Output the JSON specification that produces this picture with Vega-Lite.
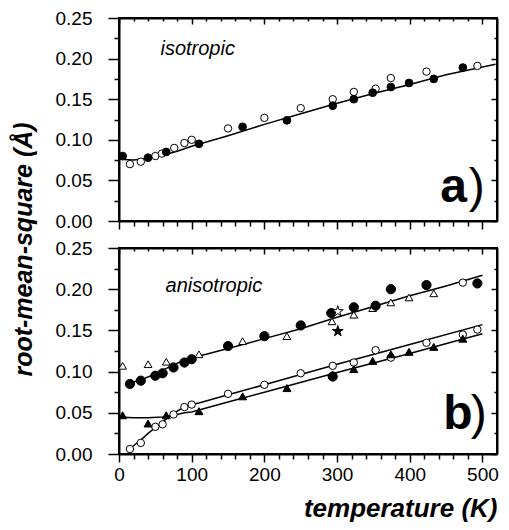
{
  "$schema": "https://vega.github.io/schema/vega-lite/v6.json",
  "background": "white",
  "padding": {"left": 10, "top": 8, "right": 5, "bottom": 5},
  "bounds": "flush",
  "spacing": 27,
  "config": {
    "font": "Liberation Sans",
    "view": {"stroke": "black", "strokeWidth": 2},
    "axis": {"domainColor": "black", "domainWidth": 2, "tickColor": "black", "tickWidth": 1.5, "labelColor": "black", "labelFontSize": 19, "grid": false, "titleColor": "black", "labelFlush": false, "labelOverlap": false}
  },
  "datasets": {
    "iso": [
      {"T": 5, "v": 0.080, "s": "f"}, {"T": 40, "v": 0.078, "s": "f"}, {"T": 65, "v": 0.085, "s": "f"}, {"T": 110, "v": 0.095, "s": "f"},
      {"T": 170, "v": 0.116, "s": "f"}, {"T": 231, "v": 0.124, "s": "f"}, {"T": 294, "v": 0.142, "s": "f"}, {"T": 323, "v": 0.150, "s": "f"},
      {"T": 349, "v": 0.158, "s": "f"}, {"T": 374, "v": 0.165, "s": "f"}, {"T": 399, "v": 0.170, "s": "f"}, {"T": 433, "v": 0.175, "s": "f"},
      {"T": 473, "v": 0.189, "s": "f"},
      {"T": 15, "v": 0.070, "s": "o"}, {"T": 30, "v": 0.073, "s": "o"}, {"T": 50, "v": 0.080, "s": "o"}, {"T": 59, "v": 0.083, "s": "o"},
      {"T": 76, "v": 0.090, "s": "o"}, {"T": 90, "v": 0.096, "s": "o"}, {"T": 100, "v": 0.100, "s": "o"}, {"T": 150, "v": 0.114, "s": "o"},
      {"T": 200, "v": 0.127, "s": "o"}, {"T": 250, "v": 0.139, "s": "o"}, {"T": 294, "v": 0.150, "s": "o"}, {"T": 323, "v": 0.159, "s": "o"},
      {"T": 353, "v": 0.163, "s": "o"}, {"T": 374, "v": 0.176, "s": "o"}, {"T": 423, "v": 0.184, "s": "o"}, {"T": 493, "v": 0.191, "s": "o"}
    ],
    "isoFit": [
      {"T": 0, "v": 0.076}, {"T": 20, "v": 0.075}, {"T": 40, "v": 0.077}, {"T": 60, "v": 0.081}, {"T": 80, "v": 0.086},
      {"T": 100, "v": 0.092}, {"T": 150, "v": 0.105}, {"T": 200, "v": 0.119}, {"T": 250, "v": 0.132}, {"T": 300, "v": 0.145},
      {"T": 350, "v": 0.157}, {"T": 400, "v": 0.168}, {"T": 450, "v": 0.180}, {"T": 518, "v": 0.193}
    ],
    "ani": [
      {"T": 15, "v": 0.085, "s": "fc"}, {"T": 30, "v": 0.089, "s": "fc"}, {"T": 50, "v": 0.095, "s": "fc"}, {"T": 60, "v": 0.098, "s": "fc"},
      {"T": 75, "v": 0.105, "s": "fc"}, {"T": 90, "v": 0.111, "s": "fc"}, {"T": 100, "v": 0.115, "s": "fc"}, {"T": 150, "v": 0.131, "s": "fc"},
      {"T": 200, "v": 0.143, "s": "fc"}, {"T": 250, "v": 0.156, "s": "fc"}, {"T": 292, "v": 0.171, "s": "fc"}, {"T": 323, "v": 0.178, "s": "fc"},
      {"T": 353, "v": 0.180, "s": "fc"}, {"T": 374, "v": 0.200, "s": "fc"}, {"T": 423, "v": 0.205, "s": "fc"}, {"T": 493, "v": 0.207, "s": "fc"},
      {"T": 294, "v": 0.094, "s": "fc"},
      {"T": 5, "v": 0.107, "s": "ot"}, {"T": 40, "v": 0.109, "s": "ot"}, {"T": 65, "v": 0.112, "s": "ot"}, {"T": 110, "v": 0.121, "s": "ot"},
      {"T": 170, "v": 0.137, "s": "ot"}, {"T": 231, "v": 0.143, "s": "ot"}, {"T": 293, "v": 0.161, "s": "ot"}, {"T": 323, "v": 0.169, "s": "ot"},
      {"T": 349, "v": 0.177, "s": "ot"}, {"T": 374, "v": 0.184, "s": "ot"}, {"T": 399, "v": 0.190, "s": "ot"}, {"T": 433, "v": 0.195, "s": "ot"},
      {"T": 473, "v": 0.208, "s": "oc"},
      {"T": 15, "v": 0.006, "s": "oc"}, {"T": 30, "v": 0.0135, "s": "oc"}, {"T": 50, "v": 0.033, "s": "oc"}, {"T": 60, "v": 0.036, "s": "oc"},
      {"T": 75, "v": 0.048, "s": "oc"}, {"T": 90, "v": 0.057, "s": "oc"}, {"T": 100, "v": 0.060, "s": "oc"}, {"T": 150, "v": 0.073, "s": "oc"},
      {"T": 200, "v": 0.084, "s": "oc"}, {"T": 250, "v": 0.098, "s": "oc"}, {"T": 294, "v": 0.107, "s": "oc"}, {"T": 323, "v": 0.111, "s": "oc"},
      {"T": 353, "v": 0.126, "s": "oc"}, {"T": 374, "v": 0.117, "s": "oc"}, {"T": 423, "v": 0.135, "s": "oc"}, {"T": 473, "v": 0.145, "s": "oc"},
      {"T": 493, "v": 0.151, "s": "oc"},
      {"T": 5, "v": 0.047, "s": "ft"}, {"T": 40, "v": 0.037, "s": "ft"}, {"T": 65, "v": 0.047, "s": "ft"}, {"T": 110, "v": 0.052, "s": "ft"},
      {"T": 170, "v": 0.070, "s": "ft"}, {"T": 231, "v": 0.080, "s": "ft"}, {"T": 294, "v": 0.096, "s": "ft"}, {"T": 323, "v": 0.103, "s": "ft"},
      {"T": 349, "v": 0.113, "s": "ft"}, {"T": 374, "v": 0.121, "s": "ft"}, {"T": 399, "v": 0.124, "s": "ft"}, {"T": 433, "v": 0.130, "s": "ft"},
      {"T": 473, "v": 0.140, "s": "ft"},
      {"T": 301, "v": 0.173, "s": "os"}, {"T": 301, "v": 0.149, "s": "fs"}
    ],
    "aniFit": [
      {"c": "up", "T": 12, "v": 0.085}, {"c": "up", "T": 30, "v": 0.090}, {"c": "up", "T": 50, "v": 0.097}, {"c": "up", "T": 70, "v": 0.106},
      {"c": "up", "T": 90, "v": 0.114}, {"c": "up", "T": 100, "v": 0.117}, {"c": "up", "T": 120, "v": 0.121}, {"c": "up", "T": 150, "v": 0.128},
      {"c": "up", "T": 200, "v": 0.140}, {"c": "up", "T": 250, "v": 0.152}, {"c": "up", "T": 300, "v": 0.166}, {"c": "up", "T": 350, "v": 0.179},
      {"c": "up", "T": 400, "v": 0.192}, {"c": "up", "T": 450, "v": 0.204}, {"c": "up", "T": 500, "v": 0.217},
      {"c": "oc", "T": 11, "v": 0.004}, {"c": "oc", "T": 20, "v": 0.010}, {"c": "oc", "T": 30, "v": 0.017}, {"c": "oc", "T": 40, "v": 0.025},
      {"c": "oc", "T": 50, "v": 0.032}, {"c": "oc", "T": 60, "v": 0.039}, {"c": "oc", "T": 70, "v": 0.046}, {"c": "oc", "T": 80, "v": 0.052},
      {"c": "oc", "T": 90, "v": 0.057}, {"c": "oc", "T": 100, "v": 0.060}, {"c": "oc", "T": 110, "v": 0.062}, {"c": "oc", "T": 150, "v": 0.072},
      {"c": "oc", "T": 200, "v": 0.084}, {"c": "oc", "T": 300, "v": 0.109}, {"c": "oc", "T": 400, "v": 0.133}, {"c": "oc", "T": 500, "v": 0.157},
      {"c": "ft", "T": 0, "v": 0.045}, {"c": "ft", "T": 20, "v": 0.044}, {"c": "ft", "T": 40, "v": 0.044}, {"c": "ft", "T": 60, "v": 0.045},
      {"c": "ft", "T": 70, "v": 0.046}, {"c": "ft", "T": 80, "v": 0.048}, {"c": "ft", "T": 90, "v": 0.050}, {"c": "ft", "T": 100, "v": 0.051},
      {"c": "ft", "T": 150, "v": 0.063}, {"c": "ft", "T": 200, "v": 0.075}, {"c": "ft", "T": 300, "v": 0.099}, {"c": "ft", "T": 400, "v": 0.122},
      {"c": "ft", "T": 500, "v": 0.146}
    ]
  },
  "vconcat": [
    {
      "width": 378,
      "height": 203,
      "resolve": {"axis": {"x": "independent", "y": "independent"}},
      "layer": [
        {
          "data": {"name": "isoFit"},
          "mark": {"type": "line", "color": "black", "strokeWidth": 1.5},
          "encoding": {
            "x": {"field": "T", "type": "quantitative", "scale": {"domain": [0, 520], "nice": false},
              "axis": {"values": [0,20,40,60,80,100,120,140,160,180,200,220,240,260,280,300,320,340,360,380,400,420,440,460,480,500], "labels": false, "title": null,
                "tickSize": {"condition": {"test": "datum.value % 100 == 0", "value": 8}, "value": 5}}},
            "y": {"field": "v", "type": "quantitative", "scale": {"domain": [0, 0.25], "nice": false},
              "axis": {"values": [0,0.025,0.05,0.075,0.1,0.125,0.15,0.175,0.2,0.225,0.25],
                "labelExpr": "round(datum.value*1000) % 50 == 0 ? format(datum.value, '.2f') : ''",
                "tickSize": {"condition": {"test": "round(datum.value*1000) % 50 == 0", "value": 11}, "value": 5},
                "labelPadding": 16,
                "title": "root-mean-square (Å)", "titleFontSize": 25, "titleFontWeight": "bold", "titleFontStyle": "italic",
                "titleAngle": -90, "titleX": -96, "titleY": 231, "titleAlign": "center", "titleBaseline": "middle"}}
          }
        },
        {
          "data": {"name": "iso"},
          "transform": [{"filter": "datum.s == 'o'"}],
          "mark": {"type": "point", "shape": "circle", "filled": true, "fill": "white", "stroke": "black", "strokeWidth": 1, "size": 55, "opacity": 1},
          "encoding": {
            "x": {"field": "T", "type": "quantitative",
              "axis": {"orient": "top", "values": [0,20,40,60,80,100,120,140,160,180,200,220,240,260,280,300,320,340,360,380,400,420,440,460,480,500], "labels": false, "title": null,
                "tickSize": {"condition": {"test": "datum.value % 100 == 0", "value": -6}, "value": -3}}},
            "y": {"field": "v", "type": "quantitative",
              "axis": {"orient": "right", "values": [0,0.025,0.05,0.075,0.1,0.125,0.15,0.175,0.2,0.225,0.25], "labels": false, "title": null,
                "tickSize": {"condition": {"test": "round(datum.value*1000) % 50 == 0", "value": -6}, "value": -3}}}
          }
        },
        {
          "data": {"name": "iso"},
          "transform": [{"filter": "datum.s == 'f'"}],
          "mark": {"type": "point", "shape": "circle", "filled": true, "fill": "black", "stroke": "black", "strokeWidth": 1, "size": 60, "opacity": 1},
          "encoding": {
            "x": {"field": "T", "type": "quantitative", "axis": null},
            "y": {"field": "v", "type": "quantitative", "axis": null}
          }
        },
        {
          "data": {"values": [{"T": 57, "v": 0.212, "label": "isotropic"}]},
          "mark": {"type": "text", "align": "left", "baseline": "middle", "fontSize": 20, "fontStyle": "italic", "color": "black"},
          "encoding": {
            "x": {"field": "T", "type": "quantitative", "axis": null},
            "y": {"field": "v", "type": "quantitative", "axis": null},
            "text": {"field": "label"}
          }
        },
        {
          "data": {"values": [{"T": 442, "v": 0.024, "label": "a"}]},
          "mark": {"type": "text", "align": "left", "baseline": "alphabetic", "fontSize": 48, "fontWeight": "bold", "color": "black"},
          "encoding": {
            "x": {"field": "T", "type": "quantitative", "axis": null},
            "y": {"field": "v", "type": "quantitative", "axis": null},
            "text": {"field": "label"}
          }
        },
        {
          "data": {"values": [{"T": 481, "v": 0.024, "label": ")"}]},
          "mark": {"type": "text", "align": "left", "baseline": "alphabetic", "fontSize": 48, "fontWeight": "normal", "color": "black"},
          "encoding": {
            "x": {"field": "T", "type": "quantitative", "axis": null},
            "y": {"field": "v", "type": "quantitative", "axis": null},
            "text": {"field": "label"}
          }
        }
      ]
    },
    {
      "width": 378,
      "height": 206,
      "resolve": {"axis": {"x": "independent", "y": "independent"}},
      "layer": [
        {
          "data": {"name": "aniFit"},
          "mark": {"type": "line", "color": "black", "strokeWidth": 1.5},
          "encoding": {
            "x": {"field": "T", "type": "quantitative", "scale": {"domain": [0, 520], "nice": false},
              "axis": {"values": [0,20,40,60,80,100,120,140,160,180,200,220,240,260,280,300,320,340,360,380,400,420,440,460,480,500],
                "labelExpr": "datum.value % 100 == 0 ? datum.label : ''", "labelPadding": 3,
                "tickSize": {"condition": {"test": "datum.value % 100 == 0", "value": 8}, "value": 5},
                "title": "temperature (K)", "titleFontSize": 26, "titleFontWeight": "bold", "titleFontStyle": "italic",
                "titleAnchor": "end", "titlePadding": 11}},
            "y": {"field": "v", "type": "quantitative", "scale": {"domain": [0, 0.25], "nice": false},
              "axis": {"values": [0,0.025,0.05,0.075,0.1,0.125,0.15,0.175,0.2,0.225,0.25],
                "labelExpr": "round(datum.value*1000) % 50 == 0 ? format(datum.value, '.2f') : ''",
                "tickSize": {"condition": {"test": "round(datum.value*1000) % 50 == 0", "value": 11}, "value": 5},
                "labelPadding": 16, "title": null}},
            "detail": {"field": "c"}
          }
        },
        {
          "data": {"name": "ani"},
          "transform": [{"filter": "datum.s == 'ot'"}],
          "mark": {"type": "point", "shape": "triangle-up", "filled": true, "fill": "white", "stroke": "black", "strokeWidth": 1, "size": 60, "opacity": 1},
          "encoding": {
            "x": {"field": "T", "type": "quantitative",
              "axis": {"orient": "top", "values": [0,20,40,60,80,100,120,140,160,180,200,220,240,260,280,300,320,340,360,380,400,420,440,460,480,500], "labels": false, "title": null,
                "tickSize": {"condition": {"test": "datum.value % 100 == 0", "value": -6}, "value": -3}}},
            "y": {"field": "v", "type": "quantitative",
              "axis": {"orient": "right", "values": [0,0.025,0.05,0.075,0.1,0.125,0.15,0.175,0.2,0.225,0.25], "labels": false, "title": null,
                "tickSize": {"condition": {"test": "round(datum.value*1000) % 50 == 0", "value": -6}, "value": -3}}}
          }
        },
        {
          "data": {"name": "ani"},
          "transform": [{"filter": "datum.s == 'oc'"}],
          "mark": {"type": "point", "shape": "circle", "filled": true, "fill": "white", "stroke": "black", "strokeWidth": 1, "size": 55, "opacity": 1},
          "encoding": {
            "x": {"field": "T", "type": "quantitative", "axis": null},
            "y": {"field": "v", "type": "quantitative", "axis": null}
          }
        },
        {
          "data": {"name": "ani"},
          "transform": [{"filter": "datum.s == 'fc'"}],
          "mark": {"type": "point", "shape": "circle", "filled": true, "fill": "black", "stroke": "black", "strokeWidth": 1, "size": 85, "opacity": 1},
          "encoding": {
            "x": {"field": "T", "type": "quantitative", "axis": null},
            "y": {"field": "v", "type": "quantitative", "axis": null}
          }
        },
        {
          "data": {"name": "ani"},
          "transform": [{"filter": "datum.s == 'ft'"}],
          "mark": {"type": "point", "shape": "triangle-up", "filled": true, "fill": "black", "stroke": "black", "strokeWidth": 1, "size": 65, "opacity": 1},
          "encoding": {
            "x": {"field": "T", "type": "quantitative", "axis": null},
            "y": {"field": "v", "type": "quantitative", "axis": null}
          }
        },
        {
          "data": {"name": "ani"},
          "transform": [{"filter": "datum.s == 'os'"}],
          "mark": {"type": "point", "shape": "M0,-1L0.2245,-0.309L0.951,-0.309L0.363,0.118L0.588,0.809L0,0.382L-0.588,0.809L-0.363,0.118L-0.951,-0.309L-0.2245,-0.309Z", "filled": true, "fill": "white", "stroke": "black", "strokeWidth": 1, "size": 130, "opacity": 1},
          "encoding": {
            "x": {"field": "T", "type": "quantitative", "axis": null},
            "y": {"field": "v", "type": "quantitative", "axis": null}
          }
        },
        {
          "data": {"name": "ani"},
          "transform": [{"filter": "datum.s == 'fs'"}],
          "mark": {"type": "point", "shape": "M0,-1L0.2245,-0.309L0.951,-0.309L0.363,0.118L0.588,0.809L0,0.382L-0.588,0.809L-0.363,0.118L-0.951,-0.309L-0.2245,-0.309Z", "filled": true, "fill": "black", "stroke": "black", "strokeWidth": 1, "size": 130, "opacity": 1},
          "encoding": {
            "x": {"field": "T", "type": "quantitative", "axis": null},
            "y": {"field": "v", "type": "quantitative", "axis": null}
          }
        },
        {
          "data": {"values": [{"T": 64, "v": 0.2035, "label": "anisotropic"}]},
          "mark": {"type": "text", "align": "left", "baseline": "middle", "fontSize": 20, "fontStyle": "italic", "color": "black"},
          "encoding": {
            "x": {"field": "T", "type": "quantitative", "axis": null},
            "y": {"field": "v", "type": "quantitative", "axis": null},
            "text": {"field": "label"}
          }
        },
        {
          "data": {"values": [{"T": 446, "v": 0.030, "label": "b"}]},
          "mark": {"type": "text", "align": "left", "baseline": "alphabetic", "fontSize": 48, "fontWeight": "bold", "color": "black"},
          "encoding": {
            "x": {"field": "T", "type": "quantitative", "axis": null},
            "y": {"field": "v", "type": "quantitative", "axis": null},
            "text": {"field": "label"}
          }
        },
        {
          "data": {"values": [{"T": 484, "v": 0.030, "label": ")"}]},
          "mark": {"type": "text", "align": "left", "baseline": "alphabetic", "fontSize": 48, "fontWeight": "normal", "color": "black"},
          "encoding": {
            "x": {"field": "T", "type": "quantitative", "axis": null},
            "y": {"field": "v", "type": "quantitative", "axis": null},
            "text": {"field": "label"}
          }
        }
      ]
    }
  ]
}
